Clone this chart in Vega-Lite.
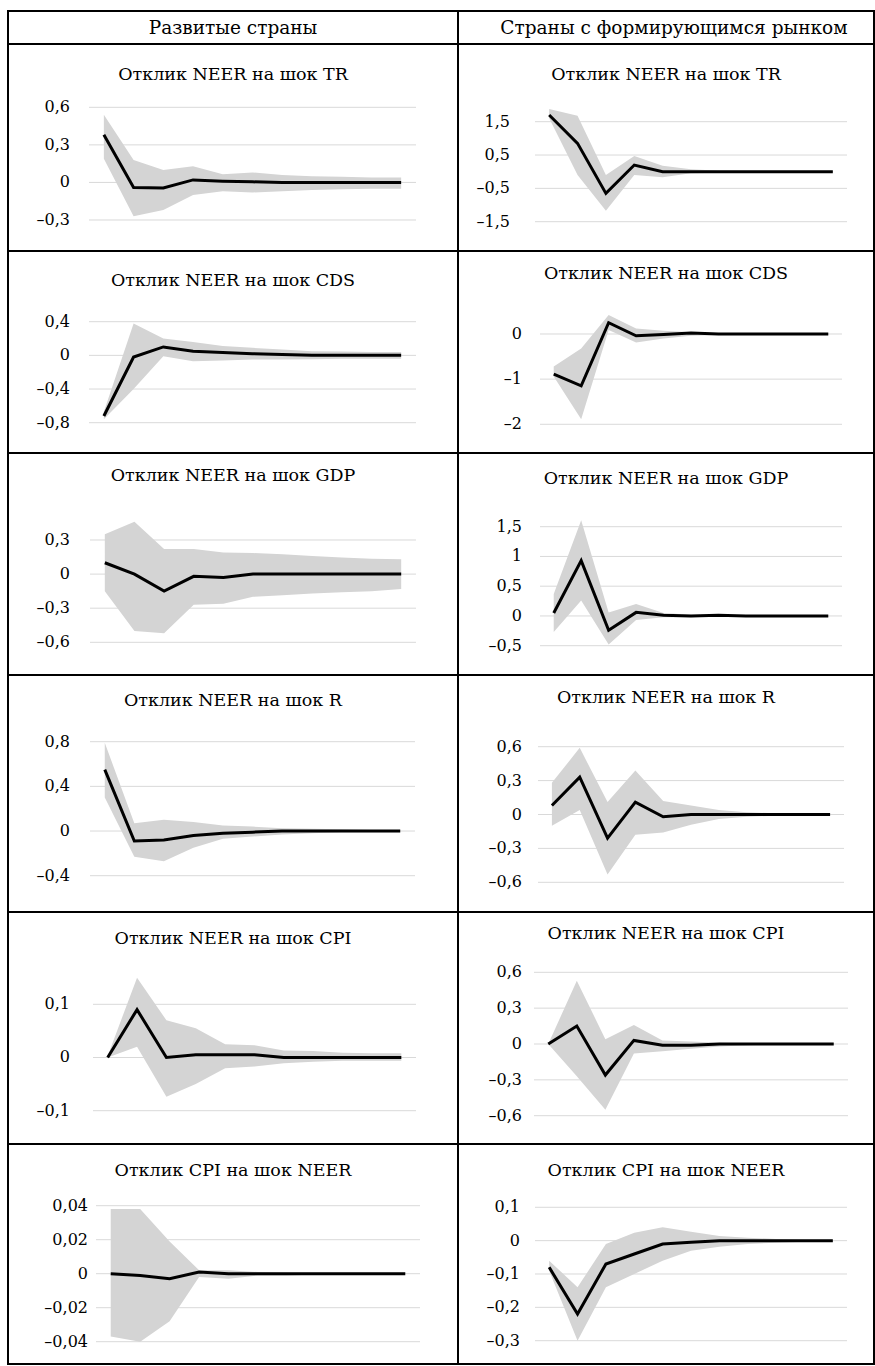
{
  "$schema": "https://vega.github.io/schema/vega-lite/v6.json",
  "background": "white",
  "padding": {"left": 7, "top": 10, "right": 0, "bottom": 0},
  "columns": 2,
  "spacing": 0,
  "bounds": "flush",
  "config": {
    "view": {"stroke": "black", "strokeWidth": 2},
    "title": {"font": "DejaVu Serif", "fontSize": 17.5, "fontWeight": "normal", "color": "black", "anchor": "middle", "frame": "group"},
    "text": {"font": "DejaVu Serif", "fontSize": 16, "color": "black", "align": "right", "baseline": "middle"}
  },
  "datasets": {
    "irf": [
      {"p": "TR_d", "t": 1, "mid": 0.38, "lo": 0.19, "hi": 0.54},
      {"p": "TR_d", "t": 2, "mid": -0.04, "lo": -0.27, "hi": 0.18},
      {"p": "TR_d", "t": 3, "mid": -0.045, "lo": -0.22, "hi": 0.10},
      {"p": "TR_d", "t": 4, "mid": 0.02, "lo": -0.10, "hi": 0.13},
      {"p": "TR_d", "t": 5, "mid": 0.01, "lo": -0.07, "hi": 0.065},
      {"p": "TR_d", "t": 6, "mid": 0.005, "lo": -0.08, "hi": 0.08},
      {"p": "TR_d", "t": 7, "mid": 0, "lo": -0.07, "hi": 0.06},
      {"p": "TR_d", "t": 8, "mid": 0, "lo": -0.06, "hi": 0.05},
      {"p": "TR_d", "t": 9, "mid": 0, "lo": -0.055, "hi": 0.045},
      {"p": "TR_d", "t": 10, "mid": 0, "lo": -0.05, "hi": 0.04},
      {"p": "TR_d", "t": 11, "mid": 0, "lo": -0.05, "hi": 0.04},

      {"p": "TR_e", "t": 1, "mid": 1.7, "lo": 1.6, "hi": 1.88},
      {"p": "TR_e", "t": 2, "mid": 0.85, "lo": -0.1, "hi": 1.68},
      {"p": "TR_e", "t": 3, "mid": -0.65, "lo": -1.17, "hi": -0.1},
      {"p": "TR_e", "t": 4, "mid": 0.2, "lo": -0.1, "hi": 0.47},
      {"p": "TR_e", "t": 5, "mid": 0.0, "lo": -0.17, "hi": 0.18},
      {"p": "TR_e", "t": 6, "mid": 0, "lo": -0.05, "hi": 0.07},
      {"p": "TR_e", "t": 7, "mid": 0, "lo": -0.03, "hi": 0.03},
      {"p": "TR_e", "t": 8, "mid": 0, "lo": -0.02, "hi": 0.02},
      {"p": "TR_e", "t": 9, "mid": 0, "lo": -0.02, "hi": 0.02},
      {"p": "TR_e", "t": 10, "mid": 0, "lo": -0.02, "hi": 0.02},
      {"p": "TR_e", "t": 11, "mid": 0, "lo": -0.02, "hi": 0.02},

      {"p": "CDS_d", "t": 1, "mid": -0.72, "lo": -0.76, "hi": -0.67},
      {"p": "CDS_d", "t": 2, "mid": -0.02, "lo": -0.40, "hi": 0.38},
      {"p": "CDS_d", "t": 3, "mid": 0.10, "lo": -0.01, "hi": 0.20},
      {"p": "CDS_d", "t": 4, "mid": 0.05, "lo": -0.07, "hi": 0.16},
      {"p": "CDS_d", "t": 5, "mid": 0.035, "lo": -0.06, "hi": 0.11},
      {"p": "CDS_d", "t": 6, "mid": 0.02, "lo": -0.05, "hi": 0.09},
      {"p": "CDS_d", "t": 7, "mid": 0.01, "lo": -0.05, "hi": 0.07},
      {"p": "CDS_d", "t": 8, "mid": 0, "lo": -0.045, "hi": 0.05},
      {"p": "CDS_d", "t": 9, "mid": 0, "lo": -0.04, "hi": 0.045},
      {"p": "CDS_d", "t": 10, "mid": 0, "lo": -0.04, "hi": 0.04},
      {"p": "CDS_d", "t": 11, "mid": 0, "lo": -0.04, "hi": 0.04},

      {"p": "CDS_e", "t": 1, "mid": -0.89, "lo": -0.94, "hi": -0.72},
      {"p": "CDS_e", "t": 2, "mid": -1.15, "lo": -1.89, "hi": -0.32},
      {"p": "CDS_e", "t": 3, "mid": 0.25, "lo": 0.09, "hi": 0.42},
      {"p": "CDS_e", "t": 4, "mid": -0.04, "lo": -0.19, "hi": 0.12},
      {"p": "CDS_e", "t": 5, "mid": -0.01, "lo": -0.1, "hi": 0.07},
      {"p": "CDS_e", "t": 6, "mid": 0.02, "lo": -0.04, "hi": 0.04},
      {"p": "CDS_e", "t": 7, "mid": 0, "lo": -0.02, "hi": 0.02},
      {"p": "CDS_e", "t": 8, "mid": 0, "lo": -0.01, "hi": 0.01},
      {"p": "CDS_e", "t": 9, "mid": 0, "lo": -0.01, "hi": 0.01},
      {"p": "CDS_e", "t": 10, "mid": 0, "lo": -0.01, "hi": 0.01},
      {"p": "CDS_e", "t": 11, "mid": 0, "lo": -0.01, "hi": 0.01},

      {"p": "GDP_d", "t": 1, "mid": 0.10, "lo": -0.15, "hi": 0.35},
      {"p": "GDP_d", "t": 2, "mid": 0, "lo": -0.50, "hi": 0.46},
      {"p": "GDP_d", "t": 3, "mid": -0.15, "lo": -0.52, "hi": 0.22},
      {"p": "GDP_d", "t": 4, "mid": -0.02, "lo": -0.27, "hi": 0.22},
      {"p": "GDP_d", "t": 5, "mid": -0.03, "lo": -0.26, "hi": 0.19},
      {"p": "GDP_d", "t": 6, "mid": 0, "lo": -0.20, "hi": 0.185},
      {"p": "GDP_d", "t": 7, "mid": 0, "lo": -0.185, "hi": 0.175},
      {"p": "GDP_d", "t": 8, "mid": 0, "lo": -0.17, "hi": 0.16},
      {"p": "GDP_d", "t": 9, "mid": 0, "lo": -0.16, "hi": 0.145},
      {"p": "GDP_d", "t": 10, "mid": 0, "lo": -0.15, "hi": 0.135},
      {"p": "GDP_d", "t": 11, "mid": 0, "lo": -0.13, "hi": 0.13},

      {"p": "GDP_e", "t": 1, "mid": 0.05, "lo": -0.27, "hi": 0.37},
      {"p": "GDP_e", "t": 2, "mid": 0.93, "lo": 0.26, "hi": 1.61},
      {"p": "GDP_e", "t": 3, "mid": -0.24, "lo": -0.48, "hi": 0.06},
      {"p": "GDP_e", "t": 4, "mid": 0.06, "lo": -0.07, "hi": 0.2},
      {"p": "GDP_e", "t": 5, "mid": 0.01, "lo": -0.02, "hi": 0.05},
      {"p": "GDP_e", "t": 6, "mid": 0, "lo": -0.02, "hi": 0.02},
      {"p": "GDP_e", "t": 7, "mid": 0.01, "lo": -0.01, "hi": 0.02},
      {"p": "GDP_e", "t": 8, "mid": 0, "lo": -0.01, "hi": 0.01},
      {"p": "GDP_e", "t": 9, "mid": 0, "lo": -0.01, "hi": 0.01},
      {"p": "GDP_e", "t": 10, "mid": 0, "lo": -0.01, "hi": 0.01},
      {"p": "GDP_e", "t": 11, "mid": 0, "lo": -0.01, "hi": 0.01},

      {"p": "R_d", "t": 1, "mid": 0.55, "lo": 0.30, "hi": 0.79},
      {"p": "R_d", "t": 2, "mid": -0.09, "lo": -0.23, "hi": 0.07},
      {"p": "R_d", "t": 3, "mid": -0.08, "lo": -0.27, "hi": 0.10},
      {"p": "R_d", "t": 4, "mid": -0.04, "lo": -0.15, "hi": 0.08},
      {"p": "R_d", "t": 5, "mid": -0.02, "lo": -0.07, "hi": 0.05},
      {"p": "R_d", "t": 6, "mid": -0.01, "lo": -0.05, "hi": 0.04},
      {"p": "R_d", "t": 7, "mid": 0, "lo": -0.03, "hi": 0.025},
      {"p": "R_d", "t": 8, "mid": 0, "lo": -0.02, "hi": 0.02},
      {"p": "R_d", "t": 9, "mid": 0, "lo": -0.01, "hi": 0.015},
      {"p": "R_d", "t": 10, "mid": 0, "lo": -0.01, "hi": 0.01},
      {"p": "R_d", "t": 11, "mid": 0, "lo": -0.01, "hi": 0.01},

      {"p": "R_e", "t": 1, "mid": 0.08, "lo": -0.10, "hi": 0.28},
      {"p": "R_e", "t": 2, "mid": 0.33, "lo": 0.04, "hi": 0.59},
      {"p": "R_e", "t": 3, "mid": -0.21, "lo": -0.53, "hi": 0.11},
      {"p": "R_e", "t": 4, "mid": 0.11, "lo": -0.18, "hi": 0.39},
      {"p": "R_e", "t": 5, "mid": -0.02, "lo": -0.16, "hi": 0.12},
      {"p": "R_e", "t": 6, "mid": 0, "lo": -0.09, "hi": 0.08},
      {"p": "R_e", "t": 7, "mid": 0, "lo": -0.04, "hi": 0.04},
      {"p": "R_e", "t": 8, "mid": 0, "lo": -0.02, "hi": 0.02},
      {"p": "R_e", "t": 9, "mid": 0, "lo": -0.01, "hi": 0.01},
      {"p": "R_e", "t": 10, "mid": 0, "lo": -0.01, "hi": 0.01},
      {"p": "R_e", "t": 11, "mid": 0, "lo": -0.01, "hi": 0.01},

      {"p": "CPI_d", "t": 1, "mid": 0, "lo": 0, "hi": 0.003},
      {"p": "CPI_d", "t": 2, "mid": 0.09, "lo": 0.02, "hi": 0.15},
      {"p": "CPI_d", "t": 3, "mid": 0, "lo": -0.074, "hi": 0.07},
      {"p": "CPI_d", "t": 4, "mid": 0.005, "lo": -0.05, "hi": 0.055},
      {"p": "CPI_d", "t": 5, "mid": 0.005, "lo": -0.02, "hi": 0.025},
      {"p": "CPI_d", "t": 6, "mid": 0.005, "lo": -0.017, "hi": 0.023},
      {"p": "CPI_d", "t": 7, "mid": 0, "lo": -0.011, "hi": 0.013},
      {"p": "CPI_d", "t": 8, "mid": 0, "lo": -0.008, "hi": 0.012},
      {"p": "CPI_d", "t": 9, "mid": 0, "lo": -0.006, "hi": 0.009},
      {"p": "CPI_d", "t": 10, "mid": 0, "lo": -0.006, "hi": 0.008},
      {"p": "CPI_d", "t": 11, "mid": 0, "lo": -0.006, "hi": 0.008},

      {"p": "CPI_e", "t": 1, "mid": 0, "lo": 0, "hi": 0},
      {"p": "CPI_e", "t": 2, "mid": 0.15, "lo": -0.27, "hi": 0.53},
      {"p": "CPI_e", "t": 3, "mid": -0.26, "lo": -0.55, "hi": 0.04},
      {"p": "CPI_e", "t": 4, "mid": 0.03, "lo": -0.08, "hi": 0.16},
      {"p": "CPI_e", "t": 5, "mid": -0.01, "lo": -0.06, "hi": 0.03},
      {"p": "CPI_e", "t": 6, "mid": -0.01, "lo": -0.04, "hi": 0.02},
      {"p": "CPI_e", "t": 7, "mid": 0, "lo": -0.02, "hi": 0.01},
      {"p": "CPI_e", "t": 8, "mid": 0, "lo": -0.01, "hi": 0.005},
      {"p": "CPI_e", "t": 9, "mid": 0, "lo": -0.005, "hi": 0.005},
      {"p": "CPI_e", "t": 10, "mid": 0, "lo": -0.005, "hi": 0.005},
      {"p": "CPI_e", "t": 11, "mid": 0, "lo": -0.005, "hi": 0.005},

      {"p": "NEER_d", "t": 1, "mid": 0, "lo": -0.037, "hi": 0.038},
      {"p": "NEER_d", "t": 2, "mid": -0.001, "lo": -0.04, "hi": 0.038},
      {"p": "NEER_d", "t": 3, "mid": -0.003, "lo": -0.028, "hi": 0.019},
      {"p": "NEER_d", "t": 4, "mid": 0.001, "lo": -0.002, "hi": 0.002},
      {"p": "NEER_d", "t": 5, "mid": 0, "lo": -0.003, "hi": 0.002},
      {"p": "NEER_d", "t": 6, "mid": 0, "lo": -0.001, "hi": 0.001},
      {"p": "NEER_d", "t": 7, "mid": 0, "lo": -0.001, "hi": 0.0005},
      {"p": "NEER_d", "t": 8, "mid": 0, "lo": -0.0005, "hi": 0.0005},
      {"p": "NEER_d", "t": 9, "mid": 0, "lo": -0.0005, "hi": 0.0005},
      {"p": "NEER_d", "t": 10, "mid": 0, "lo": -0.0005, "hi": 0.0005},
      {"p": "NEER_d", "t": 11, "mid": 0, "lo": -0.0005, "hi": 0.0005},

      {"p": "NEER_e", "t": 1, "mid": -0.08, "lo": -0.09, "hi": -0.06},
      {"p": "NEER_e", "t": 2, "mid": -0.22, "lo": -0.30, "hi": -0.14},
      {"p": "NEER_e", "t": 3, "mid": -0.07, "lo": -0.14, "hi": -0.01},
      {"p": "NEER_e", "t": 4, "mid": -0.04, "lo": -0.10, "hi": 0.024},
      {"p": "NEER_e", "t": 5, "mid": -0.01, "lo": -0.06, "hi": 0.04},
      {"p": "NEER_e", "t": 6, "mid": -0.005, "lo": -0.03, "hi": 0.027},
      {"p": "NEER_e", "t": 7, "mid": 0, "lo": -0.018, "hi": 0.014},
      {"p": "NEER_e", "t": 8, "mid": 0, "lo": -0.01, "hi": 0.009},
      {"p": "NEER_e", "t": 9, "mid": 0, "lo": -0.006, "hi": 0.005},
      {"p": "NEER_e", "t": 10, "mid": 0, "lo": -0.003, "hi": 0.003},
      {"p": "NEER_e", "t": 11, "mid": 0, "lo": -0.003, "hi": 0.003}
    ],
    "grid": [
      {"p": "TR_d", "g": 0.6, "lbl": "0,6"}, {"p": "TR_d", "g": 0.3, "lbl": "0,3"}, {"p": "TR_d", "g": 0, "lbl": "0"}, {"p": "TR_d", "g": -0.3, "lbl": "–0,3"},
      {"p": "TR_e", "g": 1.5, "lbl": "1,5"}, {"p": "TR_e", "g": 0.5, "lbl": "0,5"}, {"p": "TR_e", "g": -0.5, "lbl": "–0,5"}, {"p": "TR_e", "g": -1.5, "lbl": "–1,5"},
      {"p": "CDS_d", "g": 0.4, "lbl": "0,4"}, {"p": "CDS_d", "g": 0, "lbl": "0"}, {"p": "CDS_d", "g": -0.4, "lbl": "–0,4"}, {"p": "CDS_d", "g": -0.8, "lbl": "–0,8"},
      {"p": "CDS_e", "g": 0, "lbl": "0"}, {"p": "CDS_e", "g": -1, "lbl": "–1"}, {"p": "CDS_e", "g": -2, "lbl": "–2"},
      {"p": "GDP_d", "g": 0.3, "lbl": "0,3"}, {"p": "GDP_d", "g": 0, "lbl": "0"}, {"p": "GDP_d", "g": -0.3, "lbl": "–0,3"}, {"p": "GDP_d", "g": -0.6, "lbl": "–0,6"},
      {"p": "GDP_e", "g": 1.5, "lbl": "1,5"}, {"p": "GDP_e", "g": 1, "lbl": "1"}, {"p": "GDP_e", "g": 0.5, "lbl": "0,5"}, {"p": "GDP_e", "g": 0, "lbl": "0"}, {"p": "GDP_e", "g": -0.5, "lbl": "–0,5"},
      {"p": "R_d", "g": 0.8, "lbl": "0,8"}, {"p": "R_d", "g": 0.4, "lbl": "0,4"}, {"p": "R_d", "g": 0, "lbl": "0"}, {"p": "R_d", "g": -0.4, "lbl": "–0,4"},
      {"p": "R_e", "g": 0.6, "lbl": "0,6"}, {"p": "R_e", "g": 0.3, "lbl": "0,3"}, {"p": "R_e", "g": 0, "lbl": "0"}, {"p": "R_e", "g": -0.3, "lbl": "–0,3"}, {"p": "R_e", "g": -0.6, "lbl": "–0,6"},
      {"p": "CPI_d", "g": 0.1, "lbl": "0,1"}, {"p": "CPI_d", "g": 0, "lbl": "0"}, {"p": "CPI_d", "g": -0.1, "lbl": "–0,1"},
      {"p": "CPI_e", "g": 0.6, "lbl": "0,6"}, {"p": "CPI_e", "g": 0.3, "lbl": "0,3"}, {"p": "CPI_e", "g": 0, "lbl": "0"}, {"p": "CPI_e", "g": -0.3, "lbl": "–0,3"}, {"p": "CPI_e", "g": -0.6, "lbl": "–0,6"},
      {"p": "NEER_d", "g": 0.04, "lbl": "0,04"}, {"p": "NEER_d", "g": 0.02, "lbl": "0,02"}, {"p": "NEER_d", "g": 0, "lbl": "0"}, {"p": "NEER_d", "g": -0.02, "lbl": "–0,02"}, {"p": "NEER_d", "g": -0.04, "lbl": "–0,04"},
      {"p": "NEER_e", "g": 0.1, "lbl": "0,1"}, {"p": "NEER_e", "g": 0, "lbl": "0"}, {"p": "NEER_e", "g": -0.1, "lbl": "–0,1"}, {"p": "NEER_e", "g": -0.2, "lbl": "–0,2"}, {"p": "NEER_e", "g": -0.3, "lbl": "–0,3"}
    ]
  },
  "concat": [
    {"width": 450, "height": 33, "data": {"values": [{"h": "Развитые страны"}]}, "mark": {"type": "text", "fontSize": 18.5, "align": "center"},
     "encoding": {"text": {"field": "h"}, "x": {"datum": 0.5, "type": "quantitative", "scale": {"domain": [0, 1]}, "axis": null}, "y": {"datum": 0.5, "type": "quantitative", "scale": {"domain": [0, 1]}, "axis": null}}},
    {"width": 416, "height": 33, "data": {"values": [{"h": "Страны с формирующимся рынком"}]}, "mark": {"type": "text", "fontSize": 18.5, "align": "center", "dx": 8},
     "encoding": {"text": {"field": "h"}, "x": {"datum": 0.5, "type": "quantitative", "scale": {"domain": [0, 1]}, "axis": null}, "y": {"datum": 0.5, "type": "quantitative", "scale": {"domain": [0, 1]}, "axis": null}}},
    {
      "width": 450, "height": 207,
      "title": {"text": "Отклик NEER на шок TR", "offset": -39},
      "layer": [
        {"data": {"name": "grid"}, "transform": [{"filter": "datum.p == 'TR_d'"}], "mark": {"type": "rule", "color": "#d9d9d9", "strokeWidth": 1},
         "encoding": {"x": {"datum": 0.5, "type": "quantitative", "scale": {"domain": [-2.2248, 12.9128], "nice": false, "zero": false}, "axis": null}, "x2": {"datum": 11.5},
                      "y": {"field": "g", "type": "quantitative", "scale": {"domain": [-0.5476, 1.1055], "nice": false, "zero": false}, "axis": null}}},
        {"data": {"name": "grid"}, "transform": [{"filter": "datum.p == 'TR_d'"}], "mark": {"type": "text", "dx": -19},
         "encoding": {"x": {"datum": 0.5, "type": "quantitative", "axis": null}, "y": {"field": "g", "type": "quantitative", "axis": null}, "text": {"field": "lbl"}}},
        {"data": {"name": "irf"}, "transform": [{"filter": "datum.p == 'TR_d'"}], "mark": {"type": "area", "color": "#d4d4d4"},
         "encoding": {"x": {"field": "t", "type": "quantitative", "axis": null}, "y": {"field": "lo", "type": "quantitative", "axis": null}, "y2": {"field": "hi"}}},
        {"data": {"name": "irf"}, "transform": [{"filter": "datum.p == 'TR_d'"}], "mark": {"type": "line", "color": "black", "strokeWidth": 3},
         "encoding": {"x": {"field": "t", "type": "quantitative", "axis": null}, "y": {"field": "mid", "type": "quantitative", "axis": null}}}
      ]
    },
    {
      "width": 416, "height": 207,
      "title": {"text": "Отклик NEER на шок TR", "offset": -39},
      "layer": [
        {"data": {"name": "grid"}, "transform": [{"filter": "datum.p == 'TR_e'"}], "mark": {"type": "rule", "color": "#d9d9d9", "strokeWidth": 1},
         "encoding": {"x": {"datum": 0.5, "type": "quantitative", "scale": {"domain": [-2.2147, 12.4519], "nice": false, "zero": false}, "axis": null}, "x2": {"datum": 11.5},
                      "y": {"field": "g", "type": "quantitative", "scale": {"domain": [-2.379, 3.831], "nice": false, "zero": false}, "axis": null}}},
        {"data": {"name": "grid"}, "transform": [{"filter": "datum.p == 'TR_e'"}], "mark": {"type": "text", "dx": -25},
         "encoding": {"x": {"datum": 0.5, "type": "quantitative", "axis": null}, "y": {"field": "g", "type": "quantitative", "axis": null}, "text": {"field": "lbl"}}},
        {"data": {"name": "irf"}, "transform": [{"filter": "datum.p == 'TR_e'"}], "mark": {"type": "area", "color": "#d4d4d4"},
         "encoding": {"x": {"field": "t", "type": "quantitative", "axis": null}, "y": {"field": "lo", "type": "quantitative", "axis": null}, "y2": {"field": "hi"}}},
        {"data": {"name": "irf"}, "transform": [{"filter": "datum.p == 'TR_e'"}], "mark": {"type": "line", "color": "black", "strokeWidth": 3},
         "encoding": {"x": {"field": "t", "type": "quantitative", "axis": null}, "y": {"field": "mid", "type": "quantitative", "axis": null}}}
      ]
    },
    {
      "width": 450, "height": 202,
      "title": {"text": "Отклик NEER на шок CDS", "offset": -38},
      "layer": [
        {"data": {"name": "grid"}, "transform": [{"filter": "datum.p == 'CDS_d'"}], "mark": {"type": "rule", "color": "#d9d9d9", "strokeWidth": 1},
         "encoding": {"x": {"datum": 0.5, "type": "quantitative", "scale": {"domain": [-2.2248, 12.9128], "nice": false, "zero": false}, "axis": null}, "x2": {"datum": 11.5},
                      "y": {"field": "g", "type": "quantitative", "scale": {"domain": [-1.160, 1.240], "nice": false, "zero": false}, "axis": null}}},
        {"data": {"name": "grid"}, "transform": [{"filter": "datum.p == 'CDS_d'"}], "mark": {"type": "text", "dx": -19},
         "encoding": {"x": {"datum": 0.5, "type": "quantitative", "axis": null}, "y": {"field": "g", "type": "quantitative", "axis": null}, "text": {"field": "lbl"}}},
        {"data": {"name": "irf"}, "transform": [{"filter": "datum.p == 'CDS_d'"}], "mark": {"type": "area", "color": "#d4d4d4"},
         "encoding": {"x": {"field": "t", "type": "quantitative", "axis": null}, "y": {"field": "lo", "type": "quantitative", "axis": null}, "y2": {"field": "hi"}}},
        {"data": {"name": "irf"}, "transform": [{"filter": "datum.p == 'CDS_d'"}], "mark": {"type": "line", "color": "black", "strokeWidth": 3},
         "encoding": {"x": {"field": "t", "type": "quantitative", "axis": null}, "y": {"field": "mid", "type": "quantitative", "axis": null}}}
      ]
    },
    {
      "width": 416, "height": 202,
      "title": {"text": "Отклик NEER на шок CDS", "offset": -31},
      "layer": [
        {"data": {"name": "grid"}, "transform": [{"filter": "datum.p == 'CDS_e'"}], "mark": {"type": "rule", "color": "#d9d9d9", "strokeWidth": 1},
         "encoding": {"x": {"datum": 0.5, "type": "quantitative", "scale": {"domain": [-2.4868, 12.6656], "nice": false, "zero": false}, "axis": null}, "x2": {"datum": 11.5},
                      "y": {"field": "g", "type": "quantitative", "scale": {"domain": [-2.636, 1.838], "nice": false, "zero": false}, "axis": null}}},
        {"data": {"name": "grid"}, "transform": [{"filter": "datum.p == 'CDS_e'"}], "mark": {"type": "text", "dx": -18},
         "encoding": {"x": {"datum": 0.5, "type": "quantitative", "axis": null}, "y": {"field": "g", "type": "quantitative", "axis": null}, "text": {"field": "lbl"}}},
        {"data": {"name": "irf"}, "transform": [{"filter": "datum.p == 'CDS_e'"}], "mark": {"type": "area", "color": "#d4d4d4"},
         "encoding": {"x": {"field": "t", "type": "quantitative", "axis": null}, "y": {"field": "lo", "type": "quantitative", "axis": null}, "y2": {"field": "hi"}}},
        {"data": {"name": "irf"}, "transform": [{"filter": "datum.p == 'CDS_e'"}], "mark": {"type": "line", "color": "black", "strokeWidth": 3},
         "encoding": {"x": {"field": "t", "type": "quantitative", "axis": null}, "y": {"field": "mid", "type": "quantitative", "axis": null}}}
      ]
    },
    {
      "width": 450, "height": 222,
      "title": {"text": "Отклик NEER на шок GDP", "offset": -31},
      "layer": [
        {"data": {"name": "grid"}, "transform": [{"filter": "datum.p == 'GDP_d'"}], "mark": {"type": "rule", "color": "#d9d9d9", "strokeWidth": 1},
         "encoding": {"x": {"datum": 0.5, "type": "quantitative", "scale": {"domain": [-2.2669, 12.9172], "nice": false, "zero": false}, "axis": null}, "x2": {"datum": 11.5},
                      "y": {"field": "g", "type": "quantitative", "scale": {"domain": [-0.8877, 1.0654], "nice": false, "zero": false}, "axis": null}}},
        {"data": {"name": "grid"}, "transform": [{"filter": "datum.p == 'GDP_d'"}], "mark": {"type": "text", "dx": -20},
         "encoding": {"x": {"datum": 0.5, "type": "quantitative", "axis": null}, "y": {"field": "g", "type": "quantitative", "axis": null}, "text": {"field": "lbl"}}},
        {"data": {"name": "irf"}, "transform": [{"filter": "datum.p == 'GDP_d'"}], "mark": {"type": "area", "color": "#d4d4d4"},
         "encoding": {"x": {"field": "t", "type": "quantitative", "axis": null}, "y": {"field": "lo", "type": "quantitative", "axis": null}, "y2": {"field": "hi"}}},
        {"data": {"name": "irf"}, "transform": [{"filter": "datum.p == 'GDP_d'"}], "mark": {"type": "line", "color": "black", "strokeWidth": 3},
         "encoding": {"x": {"field": "t", "type": "quantitative", "axis": null}, "y": {"field": "mid", "type": "quantitative", "axis": null}}}
      ]
    },
    {
      "width": 416, "height": 222,
      "title": {"text": "Отклик NEER на шок GDP", "offset": -34},
      "layer": [
        {"data": {"name": "grid"}, "transform": [{"filter": "datum.p == 'GDP_e'"}], "mark": {"type": "rule", "color": "#d9d9d9", "strokeWidth": 1},
         "encoding": {"x": {"datum": 0.5, "type": "quantitative", "scale": {"domain": [-2.4868, 12.6656], "nice": false, "zero": false}, "axis": null}, "x2": {"datum": 11.5},
                      "y": {"field": "g", "type": "quantitative", "scale": {"domain": [-0.9924, 2.7387], "nice": false, "zero": false}, "axis": null}}},
        {"data": {"name": "grid"}, "transform": [{"filter": "datum.p == 'GDP_e'"}], "mark": {"type": "text", "dx": -18},
         "encoding": {"x": {"datum": 0.5, "type": "quantitative", "axis": null}, "y": {"field": "g", "type": "quantitative", "axis": null}, "text": {"field": "lbl"}}},
        {"data": {"name": "irf"}, "transform": [{"filter": "datum.p == 'GDP_e'"}], "mark": {"type": "area", "color": "#d4d4d4"},
         "encoding": {"x": {"field": "t", "type": "quantitative", "axis": null}, "y": {"field": "lo", "type": "quantitative", "axis": null}, "y2": {"field": "hi"}}},
        {"data": {"name": "irf"}, "transform": [{"filter": "datum.p == 'GDP_e'"}], "mark": {"type": "line", "color": "black", "strokeWidth": 3},
         "encoding": {"x": {"field": "t", "type": "quantitative", "axis": null}, "y": {"field": "mid", "type": "quantitative", "axis": null}}}
      ]
    },
    {
      "width": 450, "height": 237,
      "title": {"text": "Отклик NEER на шок R", "offset": -34},
      "layer": [
        {"data": {"name": "grid"}, "transform": [{"filter": "datum.p == 'R_d'"}], "mark": {"type": "rule", "color": "#d9d9d9", "strokeWidth": 1},
         "encoding": {"x": {"datum": 0.5, "type": "quantitative", "scale": {"domain": [-2.2754, 12.9554], "nice": false, "zero": false}, "axis": null}, "x2": {"datum": 11.5},
                      "y": {"field": "g", "type": "quantitative", "scale": {"domain": [-0.7251, 1.3973], "nice": false, "zero": false}, "axis": null}}},
        {"data": {"name": "grid"}, "transform": [{"filter": "datum.p == 'R_d'"}], "mark": {"type": "text", "dx": -20},
         "encoding": {"x": {"datum": 0.5, "type": "quantitative", "axis": null}, "y": {"field": "g", "type": "quantitative", "axis": null}, "text": {"field": "lbl"}}},
        {"data": {"name": "irf"}, "transform": [{"filter": "datum.p == 'R_d'"}], "mark": {"type": "area", "color": "#d4d4d4"},
         "encoding": {"x": {"field": "t", "type": "quantitative", "axis": null}, "y": {"field": "lo", "type": "quantitative", "axis": null}, "y2": {"field": "hi"}}},
        {"data": {"name": "irf"}, "transform": [{"filter": "datum.p == 'R_d'"}], "mark": {"type": "line", "color": "black", "strokeWidth": 3},
         "encoding": {"x": {"field": "t", "type": "quantitative", "axis": null}, "y": {"field": "mid", "type": "quantitative", "axis": null}}}
      ]
    },
    {
      "width": 416, "height": 237,
      "title": {"text": "Отклик NEER на шок R", "offset": -31},
      "layer": [
        {"data": {"name": "grid"}, "transform": [{"filter": "datum.p == 'R_e'"}], "mark": {"type": "rule", "color": "#d9d9d9", "strokeWidth": 1},
         "encoding": {"x": {"datum": 0.5, "type": "quantitative", "scale": {"domain": [-2.3758, 12.5784], "nice": false, "zero": false}, "axis": null}, "x2": {"datum": 11.5},
                      "y": {"field": "g", "type": "quantitative", "scale": {"domain": [-0.8628, 1.2345], "nice": false, "zero": false}, "axis": null}}},
        {"data": {"name": "grid"}, "transform": [{"filter": "datum.p == 'R_e'"}], "mark": {"type": "text", "dx": -16},
         "encoding": {"x": {"datum": 0.5, "type": "quantitative", "axis": null}, "y": {"field": "g", "type": "quantitative", "axis": null}, "text": {"field": "lbl"}}},
        {"data": {"name": "irf"}, "transform": [{"filter": "datum.p == 'R_e'"}], "mark": {"type": "area", "color": "#d4d4d4"},
         "encoding": {"x": {"field": "t", "type": "quantitative", "axis": null}, "y": {"field": "lo", "type": "quantitative", "axis": null}, "y2": {"field": "hi"}}},
        {"data": {"name": "irf"}, "transform": [{"filter": "datum.p == 'R_e'"}], "mark": {"type": "line", "color": "black", "strokeWidth": 3},
         "encoding": {"x": {"field": "t", "type": "quantitative", "axis": null}, "y": {"field": "mid", "type": "quantitative", "axis": null}}}
      ]
    },
    {
      "width": 450, "height": 232,
      "title": {"text": "Отклик NEER на шок CPI", "offset": -35},
      "layer": [
        {"data": {"name": "grid"}, "transform": [{"filter": "datum.p == 'CPI_d'"}], "mark": {"type": "rule", "color": "#d9d9d9", "strokeWidth": 1},
         "encoding": {"x": {"datum": 0.5, "type": "quantitative", "scale": {"domain": [-2.3947, 12.9303], "nice": false, "zero": false}, "axis": null}, "x2": {"datum": 11.5},
                      "y": {"field": "g", "type": "quantitative", "scale": {"domain": [-0.1626, 0.2735], "nice": false, "zero": false}, "axis": null}}},
        {"data": {"name": "grid"}, "transform": [{"filter": "datum.p == 'CPI_d'"}], "mark": {"type": "text", "dx": -23},
         "encoding": {"x": {"datum": 0.5, "type": "quantitative", "axis": null}, "y": {"field": "g", "type": "quantitative", "axis": null}, "text": {"field": "lbl"}}},
        {"data": {"name": "irf"}, "transform": [{"filter": "datum.p == 'CPI_d'"}], "mark": {"type": "area", "color": "#d4d4d4"},
         "encoding": {"x": {"field": "t", "type": "quantitative", "axis": null}, "y": {"field": "lo", "type": "quantitative", "axis": null}, "y2": {"field": "hi"}}},
        {"data": {"name": "irf"}, "transform": [{"filter": "datum.p == 'CPI_d'"}], "mark": {"type": "line", "color": "black", "strokeWidth": 3},
         "encoding": {"x": {"field": "t", "type": "quantitative", "axis": null}, "y": {"field": "mid", "type": "quantitative", "axis": null}}}
      ]
    },
    {
      "width": 416, "height": 232,
      "title": {"text": "Отклик NEER на шок CPI", "offset": -30},
      "layer": [
        {"data": {"name": "grid"}, "transform": [{"filter": "datum.p == 'CPI_e'"}], "mark": {"type": "rule", "color": "#d9d9d9", "strokeWidth": 1},
         "encoding": {"x": {"datum": 0.5, "type": "quantitative", "scale": {"domain": [-2.1624, 12.4108], "nice": false, "zero": false}, "axis": null}, "x2": {"datum": 11.5},
                      "y": {"field": "g", "type": "quantitative", "scale": {"domain": [-0.8368, 1.1046], "nice": false, "zero": false}, "axis": null}}},
        {"data": {"name": "grid"}, "transform": [{"filter": "datum.p == 'CPI_e'"}], "mark": {"type": "text", "dx": -12},
         "encoding": {"x": {"datum": 0.5, "type": "quantitative", "axis": null}, "y": {"field": "g", "type": "quantitative", "axis": null}, "text": {"field": "lbl"}}},
        {"data": {"name": "irf"}, "transform": [{"filter": "datum.p == 'CPI_e'"}], "mark": {"type": "area", "color": "#d4d4d4"},
         "encoding": {"x": {"field": "t", "type": "quantitative", "axis": null}, "y": {"field": "lo", "type": "quantitative", "axis": null}, "y2": {"field": "hi"}}},
        {"data": {"name": "irf"}, "transform": [{"filter": "datum.p == 'CPI_e'"}], "mark": {"type": "line", "color": "black", "strokeWidth": 3},
         "encoding": {"x": {"field": "t", "type": "quantitative", "axis": null}, "y": {"field": "mid", "type": "quantitative", "axis": null}}}
      ]
    },
    {
      "width": 450, "height": 220,
      "title": {"text": "Отклик CPI на шок NEER", "offset": -35},
      "layer": [
        {"data": {"name": "grid"}, "transform": [{"filter": "datum.p == 'NEER_d'"}], "mark": {"type": "rule", "color": "#d9d9d9", "strokeWidth": 1},
         "encoding": {"x": {"datum": 0.5, "type": "quantitative", "scale": {"domain": [-2.4876, 12.7901], "nice": false, "zero": false}, "axis": null}, "x2": {"datum": 11.5},
                      "y": {"field": "g", "type": "quantitative", "scale": {"domain": [-0.05312, 0.07629], "nice": false, "zero": false}, "axis": null}}},
        {"data": {"name": "grid"}, "transform": [{"filter": "datum.p == 'NEER_d'"}], "mark": {"type": "text", "dx": -8},
         "encoding": {"x": {"datum": 0.5, "type": "quantitative", "axis": null}, "y": {"field": "g", "type": "quantitative", "axis": null}, "text": {"field": "lbl"}}},
        {"data": {"name": "irf"}, "transform": [{"filter": "datum.p == 'NEER_d'"}], "mark": {"type": "area", "color": "#d4d4d4"},
         "encoding": {"x": {"field": "t", "type": "quantitative", "axis": null}, "y": {"field": "lo", "type": "quantitative", "axis": null}, "y2": {"field": "hi"}}},
        {"data": {"name": "irf"}, "transform": [{"filter": "datum.p == 'NEER_d'"}], "mark": {"type": "line", "color": "black", "strokeWidth": 3},
         "encoding": {"x": {"field": "t", "type": "quantitative", "axis": null}, "y": {"field": "mid", "type": "quantitative", "axis": null}}}
      ]
    },
    {
      "width": 416, "height": 220,
      "title": {"text": "Отклик CPI на шок NEER", "offset": -35},
      "layer": [
        {"data": {"name": "grid"}, "transform": [{"filter": "datum.p == 'NEER_e'"}], "mark": {"type": "rule", "color": "#d9d9d9", "strokeWidth": 1},
         "encoding": {"x": {"datum": 0.5, "type": "quantitative", "scale": {"domain": [-2.2147, 12.4519], "nice": false, "zero": false}, "axis": null}, "x2": {"datum": 11.5},
                      "y": {"field": "g", "type": "quantitative", "scale": {"domain": [-0.3699, 0.2898], "nice": false, "zero": false}, "axis": null}}},
        {"data": {"name": "grid"}, "transform": [{"filter": "datum.p == 'NEER_e'"}], "mark": {"type": "text", "dx": -15},
         "encoding": {"x": {"datum": 0.5, "type": "quantitative", "axis": null}, "y": {"field": "g", "type": "quantitative", "axis": null}, "text": {"field": "lbl"}}},
        {"data": {"name": "irf"}, "transform": [{"filter": "datum.p == 'NEER_e'"}], "mark": {"type": "area", "color": "#d4d4d4"},
         "encoding": {"x": {"field": "t", "type": "quantitative", "axis": null}, "y": {"field": "lo", "type": "quantitative", "axis": null}, "y2": {"field": "hi"}}},
        {"data": {"name": "irf"}, "transform": [{"filter": "datum.p == 'NEER_e'"}], "mark": {"type": "line", "color": "black", "strokeWidth": 3},
         "encoding": {"x": {"field": "t", "type": "quantitative", "axis": null}, "y": {"field": "mid", "type": "quantitative", "axis": null}}}
      ]
    }
  ]
}
